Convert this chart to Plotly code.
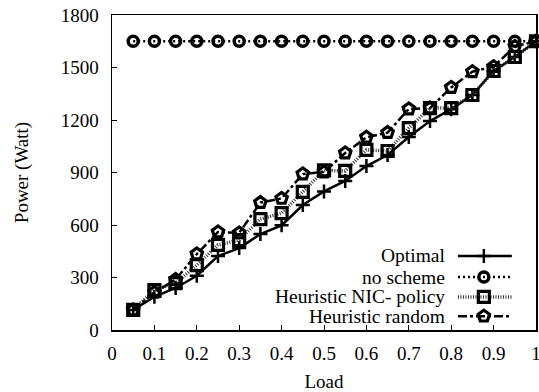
import plotly.graph_objects as go

load = [0.05, 0.1, 0.15, 0.2, 0.25, 0.3, 0.35, 0.4, 0.45, 0.5,
        0.55, 0.6, 0.65, 0.7, 0.75, 0.8, 0.85, 0.9, 0.95, 1.0]
optimal = [115, 190, 240, 310, 423, 468, 548, 598, 714, 792,
           852, 937, 1000, 1103, 1194, 1262, 1343, 1480, 1560, 1650]
no_scheme = [1650] * 20
nic_policy = [115, 228, 268, 371, 486, 514, 634, 668, 789, 912,
              909, 1029, 1023, 1154, 1268, 1268, 1343, 1480, 1560, 1650]
random_h = [115, 215, 288, 434, 560, 555, 728, 752, 891, 903,
            1011, 1101, 1128, 1263, 1268, 1386, 1476, 1505, 1620, 1650]

x_ticks = [0, 0.1, 0.2, 0.3, 0.4, 0.5, 0.6, 0.7, 0.8, 0.9, 1]
x_labels = ["0", "0.1", "0.2", "0.3", "0.4", "0.5", "0.6", "0.7", "0.8", "0.9", "1"]
y_ticks = [0, 300, 600, 900, 1200, 1500, 1800]

names = ["Optimal", "no scheme", "Heuristic NIC- policy", "Heuristic random"]
series = [optimal, no_scheme, nic_policy, random_h]
styles = [
    dict(line=dict(color="black", width=2.5, dash="solid"),
         marker=dict(symbol="cross-thin-open", size=10, color="black",
                     line=dict(color="black", width=2.5))),
    dict(line=dict(color="black", width=2.5, dash="2px,3px"),
         marker=dict(symbol="circle-open", size=10, color="black",
                     line=dict(color="black", width=3.5))),
    dict(line=dict(color="#333333", width=3.5, dash="1px,1.5px"),
         marker=dict(symbol="square-open", size=11, color="black",
                     line=dict(color="black", width=3.2))),
    dict(line=dict(color="black", width=2.5, dash="dashdot"),
         marker=dict(symbol="pentagon-open", size=12, color="black",
                     line=dict(color="black", width=3.2))),
]

FONT = "Liberation Serif, Times New Roman, serif"

fig = go.Figure()
for nm, ys, st in zip(names, series, styles):
    fig.add_trace(go.Scatter(x=load, y=ys, mode="lines+markers", name=nm,
                             showlegend=False, line=st["line"], marker=st["marker"],
                             cliponaxis=False))

# custom legend (text right-aligned, sample to its right) on an overlay axis
leg_rows = [0.235, 0.168, 0.105, 0.044]
for nm, st, yr in zip(names, styles, leg_rows):
    fig.add_trace(go.Scatter(x=[0.816, 0.943], y=[yr, yr], mode="lines",
                             line=st["line"], xaxis="x2", yaxis="y2",
                             showlegend=False, hoverinfo="skip"))
    fig.add_trace(go.Scatter(x=[0.877], y=[yr], mode="markers",
                             marker=st["marker"], xaxis="x2", yaxis="y2",
                             showlegend=False, hoverinfo="skip"))
    fig.add_annotation(x=0.79, y=yr, xref="x2", yref="y2", text=nm,
                       showarrow=False, xanchor="right", yanchor="middle",
                       font=dict(family=FONT, size=19.5, color="black"))

fig.update_layout(
    width=539, height=392,
    margin=dict(l=112, r=3, t=15, b=62),
    paper_bgcolor="white", plot_bgcolor="white",
    font=dict(family=FONT, size=19, color="black"),
    hovermode=False,
    xaxis=dict(range=[0, 1], tickvals=x_ticks, ticktext=x_labels,
               ticks="inside", ticklen=5, tickcolor="black", ticklabelstandoff=6,
               ticklabeloverflow="allow",
               showline=True, linecolor="black", linewidth=1.5, mirror=True,
               showgrid=False, zeroline=False, automargin=False,
               title=dict(text="Load", font=dict(family=FONT, size=19), standoff=11)),
    yaxis=dict(range=[0, 1800], tickvals=y_ticks,
               ticks="inside", ticklen=5, tickcolor="black", ticklabelstandoff=8,
               showline=True, linecolor="black", linewidth=1.5, mirror=True,
               showgrid=False, zeroline=False, automargin=False,
               title=dict(text="Power (Watt)", font=dict(family=FONT, size=19), standoff=27)),
    xaxis2=dict(range=[0, 1], overlaying="x", visible=False, automargin=False),
    yaxis2=dict(range=[0, 1], overlaying="y", visible=False, automargin=False),
)

fig.write_html("out.html", config={"displayModeBar": False, "staticPlot": True},
               post_script="document.body.style.margin='0';document.body.style.overflow='hidden';")
